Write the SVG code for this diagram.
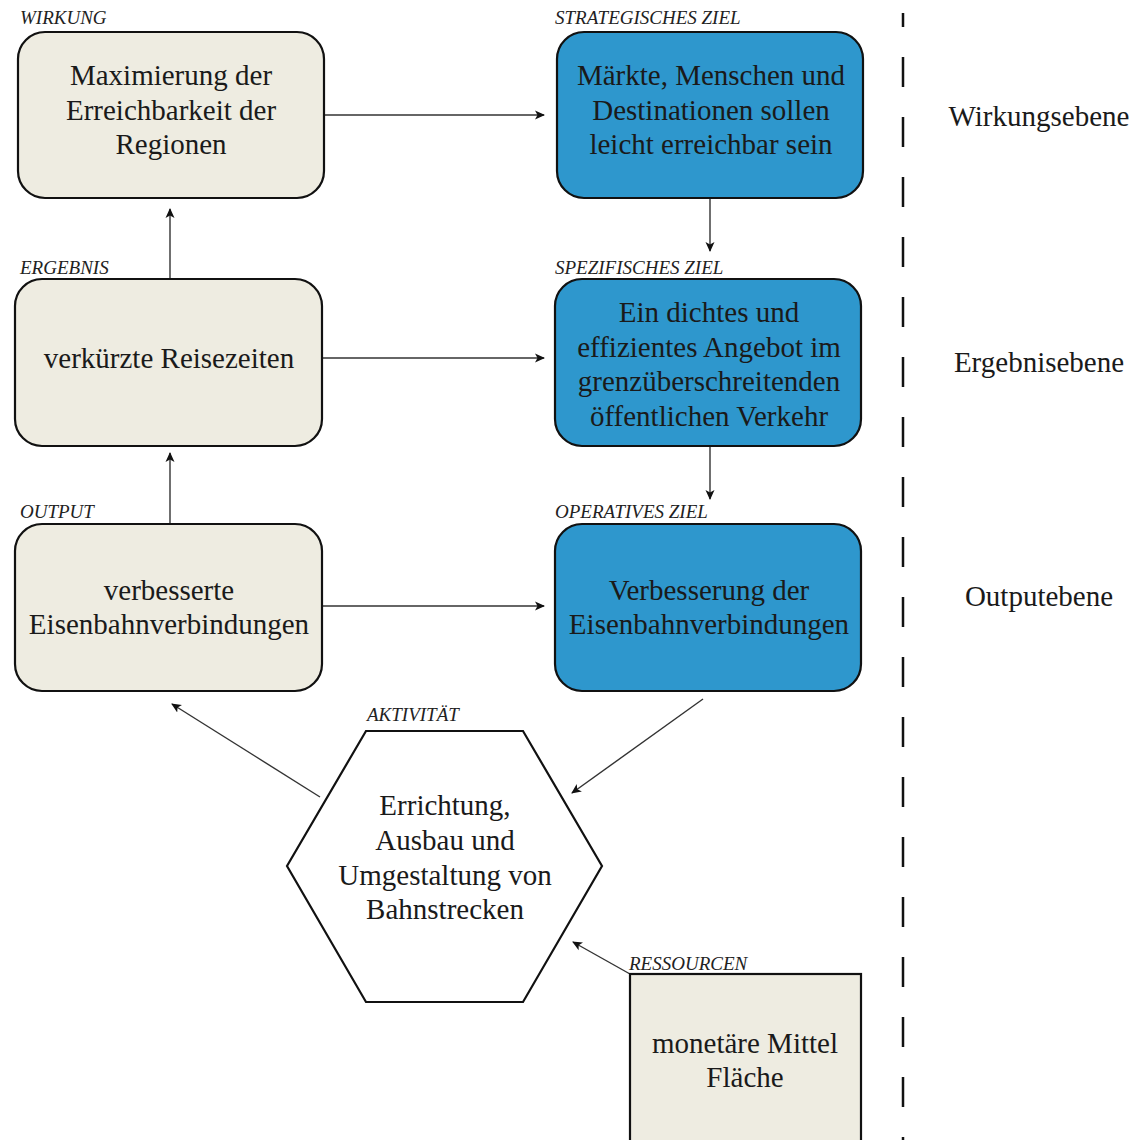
<svg xmlns="http://www.w3.org/2000/svg" width="1137" height="1140" viewBox="0 0 1137 1140">
<style>
.box{fill:#eeece1;stroke:#111;stroke-width:2.2}
.blue{fill:#2e97cd;stroke:#111;stroke-width:2.2}
.t{font-family:"Liberation Serif","Times New Roman",serif;font-size:29px;fill:#1a1a1a;text-anchor:middle}
.lab{font-family:"Liberation Serif","Times New Roman",serif;font-size:19px;font-style:italic;fill:#222}
.side{font-family:"Liberation Serif","Times New Roman",serif;font-size:29px;fill:#1a1a1a;text-anchor:middle}
.c{stroke:#333;stroke-width:1.4;fill:none;marker-end:url(#ah)}
</style>
<defs>
<marker id="ah" viewBox="0 0 10 10" refX="9" refY="5" markerWidth="10" markerHeight="10" markerUnits="userSpaceOnUse" orient="auto">
<path d="M0,0.5 L10,5 L0,9.5 L2.5,5 Z" fill="#111"/>
</marker>
</defs>
<rect width="1137" height="1140" fill="#fff"/>

<g id="connectors">
<line class="c" x1="324" y1="115" x2="544" y2="115"/>
<line class="c" x1="710" y1="198" x2="710" y2="251"/>
<line class="c" x1="170" y1="279" x2="170" y2="209"/>
<line class="c" x1="322" y1="358" x2="544" y2="358"/>
<line class="c" x1="710" y1="446" x2="710" y2="499"/>
<line class="c" x1="170" y1="524" x2="170" y2="453"/>
<line class="c" x1="322" y1="606" x2="544" y2="606"/>
<line class="c" x1="703" y1="699" x2="572" y2="793"/>
<line class="c" x1="320" y1="797" x2="172" y2="704"/>
<line class="c" x1="630" y1="974" x2="573" y2="942"/>
</g>

<g id="divider">
<line x1="903" y1="13" x2="903" y2="1140" stroke="#111" stroke-width="2.5" stroke-dasharray="30 30" stroke-dashoffset="16"/>
</g>

<g id="wirkung">
<text class="lab" x="20" y="24">WIRKUNG</text>
<rect class="box" x="18" y="32" width="306" height="166" rx="27"/>
<text class="t" x="171" y="85">Maximierung der</text>
<text class="t" x="171" y="119.5">Erreichbarkeit der</text>
<text class="t" x="171" y="154">Regionen</text>
</g>

<g id="strategisches-ziel">
<text class="lab" x="555" y="24">STRATEGISCHES ZIEL</text>
<rect class="blue" x="557" y="32" width="306" height="166" rx="27"/>
<text class="t" x="711" y="85">Märkte, Menschen und</text>
<text class="t" x="711" y="119.5">Destinationen sollen</text>
<text class="t" x="711" y="154">leicht erreichbar sein</text>
</g>

<g id="ergebnis">
<text class="lab" x="20" y="274">ERGEBNIS</text>
<rect class="box" x="15" y="279" width="307" height="167" rx="27"/>
<text class="t" x="169" y="368">verkürzte Reisezeiten</text>
</g>

<g id="spezifisches-ziel">
<text class="lab" x="555" y="274">SPEZIFISCHES ZIEL</text>
<rect class="blue" x="555" y="279" width="306" height="167" rx="27"/>
<text class="t" x="709" y="322">Ein dichtes und</text>
<text class="t" x="709" y="356.5">effizientes Angebot im</text>
<text class="t" x="709" y="391">grenzüberschreitenden</text>
<text class="t" x="709" y="425.5">öffentlichen Verkehr</text>
</g>

<g id="output">
<text class="lab" x="20" y="518">OUTPUT</text>
<rect class="box" x="15" y="524" width="307" height="167" rx="27"/>
<text class="t" x="169" y="600">verbesserte</text>
<text class="t" x="169" y="634">Eisenbahnverbindungen</text>
</g>

<g id="operatives-ziel">
<text class="lab" x="555" y="518">OPERATIVES ZIEL</text>
<rect class="blue" x="555" y="524" width="306" height="167" rx="27"/>
<text class="t" x="709" y="600">Verbesserung der</text>
<text class="t" x="709" y="634">Eisenbahnverbindungen</text>
</g>

<g id="aktivitaet">
<text class="lab" x="367" y="721">AKTIVITÄT</text>
<polygon points="366,731 523,731 602,866 523,1002 366,1002 287,866" fill="#fff" stroke="#111" stroke-width="2.2"/>
<text class="t" x="445" y="815">Errichtung,</text>
<text class="t" x="445" y="850">Ausbau und</text>
<text class="t" x="445" y="884.5">Umgestaltung von</text>
<text class="t" x="445" y="919">Bahnstrecken</text>
</g>

<g id="ressourcen">
<text class="lab" x="629" y="970">RESSOURCEN</text>
<rect class="box" x="630" y="974" width="231" height="180"/>
<text class="t" x="745" y="1053">monetäre Mittel</text>
<text class="t" x="745" y="1087">Fläche</text>
</g>

<g id="levels">
<text class="side" x="1039" y="126">Wirkungsebene</text>
<text class="side" x="1039" y="372">Ergebnisebene</text>
<text class="side" x="1039" y="606">Outputebene</text>
</g>
</svg>
